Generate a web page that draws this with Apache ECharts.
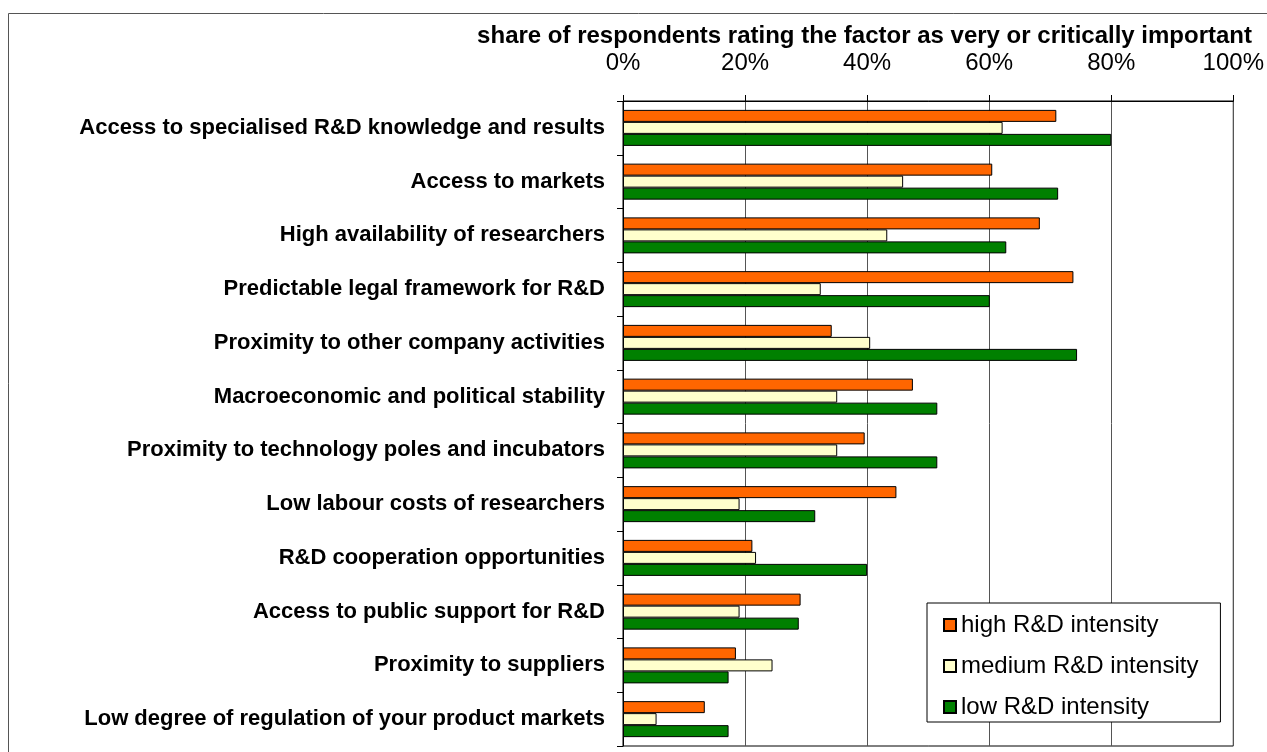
<!DOCTYPE html>
<html>
<head>
<meta charset="utf-8">
<script src="https://cdn.jsdelivr.net/npm/echarts@6/dist/echarts.min.js"></script>
<style>
  html, body { margin: 0; padding: 0; background: #fff; }
  #chart { width: 1267px; height: 752px; }
</style>
</head>
<body>
<div id="chart"></div>
<script>
// factors, top to bottom
var categories = [
  "Access to specialised R&D knowledge and results",
  "Access to markets",
  "High availability of researchers",
  "Predictable legal framework for R&D",
  "Proximity to other company activities",
  "Macroeconomic and political stability",
  "Proximity to technology poles and incubators",
  "Low labour costs of researchers",
  "R&D cooperation opportunities",
  "Access to public support for R&D",
  "Proximity to suppliers",
  "Low degree of regulation of your product markets"
];
// share (%) rating the factor very / critically important
var highIntensity = [71, 60.5, 68.3, 73.8, 34.2, 47.5, 39.6, 44.8, 21.2, 29.1, 18.5, 13.4];
var mediumIntensity = [62.2, 45.9, 43.3, 32.4, 40.5, 35.1, 35.1, 19.1, 21.8, 19.1, 24.5, 5.5];
var lowIntensity = [80, 71.3, 62.8, 60.1, 74.4, 51.5, 51.5, 31.5, 40, 28.8, 17.3, 17.3];
var seriesNames = ["high R&D intensity", "medium R&D intensity", "low R&D intensity"];

var font = "Liberation Sans, Arial, sans-serif";
var chart = echarts.init(document.getElementById("chart"));

function bar(name, data, color) {
  return {
    name: name,
    type: "bar",
    data: data,
    barWidth: 12,
    barGap: "0%",
    itemStyle: { color: color, borderColor: "#000", borderWidth: 1 }
  };
}

chart.setOption({
  animation: false,
  textStyle: { fontFamily: font },
  title: {
    text: "share of respondents rating the factor as very or critically important",
    right: 10,
    top: 19,
    textStyle: { fontFamily: font, fontSize: 24, fontWeight: "bold", color: "#000" }
  },
  graphic: [{
    type: "rect",
    shape: { x: 8.5, y: 13.5, width: 1300, height: 800 },
    style: { fill: null, stroke: "#555", lineWidth: 1 },
    z: -1
  }],
  grid: {
    left: 623, top: 101, right: 30, bottom: 6,
    show: true, borderColor: "#000", borderWidth: 1
  },
  legend: {
    orient: "vertical",
    left: 927,
    top: 603,
    padding: [10, 22, 3, 16],
    itemGap: 17,
    itemWidth: 12,
    itemHeight: 12,
    icon: "rect",
    backgroundColor: "#fff",
    borderColor: "#000",
    borderWidth: 1,
    borderRadius: 0,
    data: seriesNames,
    textStyle: { fontFamily: font, fontSize: 24, lineHeight: 22, color: "#000" }
  },
  xAxis: {
    type: "value",
    position: "top",
    min: 0,
    max: 100,
    interval: 20,
    axisLine: { show: true, lineStyle: { color: "#000" } },
    axisTick: { show: true, length: 6, lineStyle: { color: "#000" } },
    axisLabel: { formatter: "{value}%", fontSize: 24, color: "#000", margin: 26, fontFamily: font },
    splitLine: { show: true, lineStyle: { color: "#555" } }
  },
  yAxis: {
    type: "category",
    inverse: true,
    data: categories,
    axisLine: { show: true, lineStyle: { color: "#000" } },
    axisTick: { show: true, length: 6, lineStyle: { color: "#000" } },
    axisLabel: { fontSize: 22, fontWeight: "bold", color: "#000", margin: 18, fontFamily: font }
  },
  series: [
    bar(seriesNames[0], highIntensity, "#FF6600"),
    bar(seriesNames[1], mediumIntensity, "#FFFFCC"),
    bar(seriesNames[2], lowIntensity, "#008000")
  ]
});
</script>
</body>
</html>
